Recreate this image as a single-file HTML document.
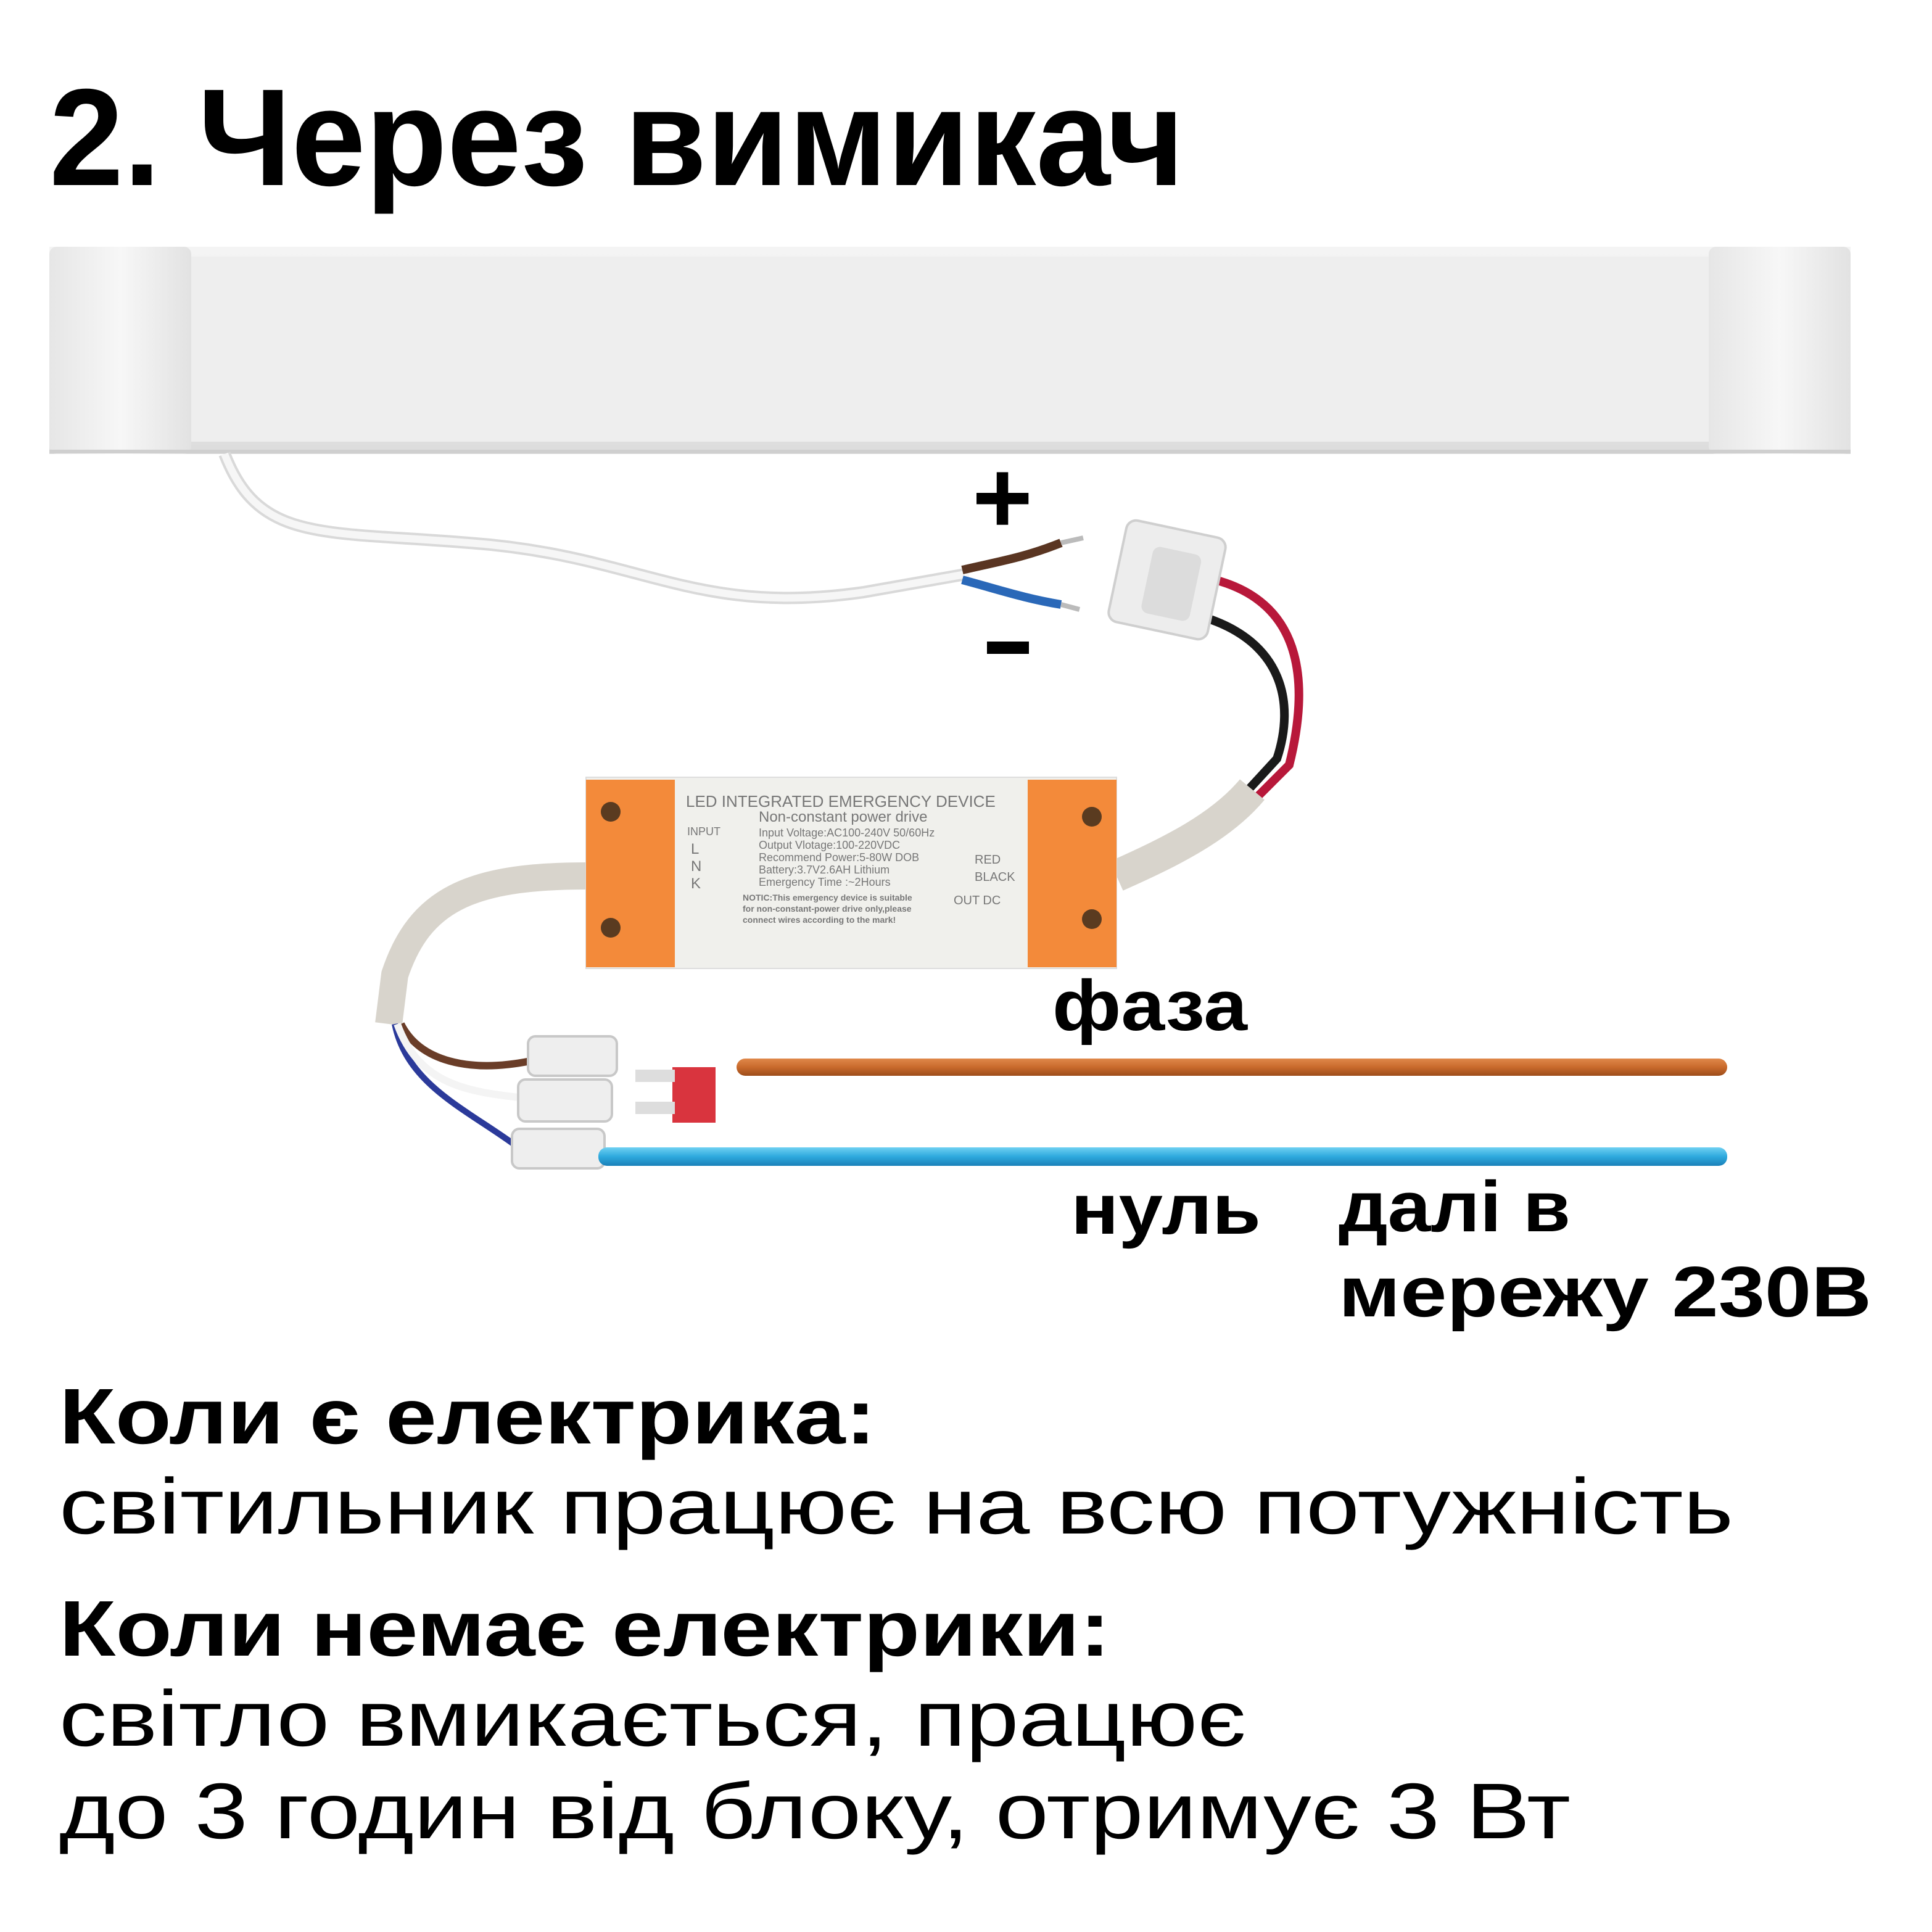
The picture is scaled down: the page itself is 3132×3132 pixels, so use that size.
<!DOCTYPE html>
<html><head><meta charset="utf-8"><style>
html,body{margin:0;padding:0;background:#fff;}
svg{display:block;}
text{font-family:"Liberation Sans","DejaVu Sans",sans-serif;}
</style></head><body>
<svg width="3132" height="3132" viewBox="0 0 1566 1566" xmlns="http://www.w3.org/2000/svg">
<defs>
<linearGradient id="lamp" x1="0" y1="0" x2="0" y2="1">
<stop offset="0" stop-color="#f4f4f4"/><stop offset="0.5" stop-color="#ececec"/><stop offset="1" stop-color="#dcdcdc"/></linearGradient>
<linearGradient id="cap" x1="0" y1="0" x2="1" y2="0">
<stop offset="0" stop-color="#e6e6e6"/><stop offset="0.5" stop-color="#f7f7f7"/><stop offset="1" stop-color="#e2e2e2"/></linearGradient>
<linearGradient id="brw" x1="0" y1="0" x2="0" y2="1"><stop offset="0" stop-color="#e0884a"/><stop offset="0.5" stop-color="#c96a2c"/><stop offset="1" stop-color="#9c4c1a"/></linearGradient>
<linearGradient id="blw" x1="0" y1="0" x2="0" y2="1"><stop offset="0" stop-color="#6fd0f2"/><stop offset="0.5" stop-color="#2ea9de"/><stop offset="1" stop-color="#1a80b8"/></linearGradient>
</defs>
<rect width="1566" height="1566" fill="#fff"/>
<text x="40" y="150" font-size="112" font-weight="bold" textLength="920" lengthAdjust="spacingAndGlyphs" fill="#000">2. Через вимикач</text>
<!-- lamp -->
<rect x="40" y="200" width="1460" height="168" fill="url(#lamp)"/>
<rect x="150" y="208" width="1240" height="150" fill="#eeeeee"/>
<rect x="40" y="200" width="115" height="168" fill="url(#cap)" rx="6"/>
<rect x="1385" y="200" width="115" height="168" fill="url(#cap)" rx="6"/>
<line x1="40" y1="366" x2="1500" y2="366" stroke="#cfcfcf" stroke-width="3"/>
<!-- cable -->
<path d="M182 368 C210 440 260 430 380 440 C520 450 560 500 700 480 L785 465" fill="none" stroke="#d9d9d9" stroke-width="10"/>
<path d="M182 368 C210 440 260 430 380 440 C520 450 560 500 700 480 L785 465" fill="none" stroke="#f6f6f6" stroke-width="6"/>
<path d="M780 462 C810 455 830 452 860 440" stroke="#5a3522" stroke-width="7" fill="none"/>
<path d="M780 470 C810 478 830 485 860 490" stroke="#2a68b8" stroke-width="7" fill="none"/>
<path d="M860 440 L878 436 M860 490 L875 494" stroke="#bbb" stroke-width="4"/>
<text x="788" y="432" font-size="84" font-weight="bold">+</text>
<rect x="800" y="520" width="34" height="10" fill="#000"/>
<!-- connector top -->
<path d="M985 470 C1060 490 1060 560 1045 620 L1020 645" stroke="#b8183a" stroke-width="7" fill="none"/>
<path d="M975 500 C1040 520 1050 570 1035 615 L1012 640" stroke="#1a1a1a" stroke-width="7" fill="none"/>
<rect x="905" y="428" width="82" height="84" rx="8" fill="#ededed" stroke="#cfcfcf" stroke-width="2" transform="rotate(12 946 470)"/>
<rect x="930" y="445" width="40" height="55" rx="6" fill="#dcdcdc" transform="rotate(12 946 470)"/>
<!-- sleeve -->
<path d="M905 710 C950 690 990 670 1015 640" stroke="#d8d4cc" stroke-width="26" fill="none"/>
<path d="M475 710 C380 710 340 730 320 790 L315 830" stroke="#d8d4cc" stroke-width="22" fill="none"/>
<!-- device -->
<rect x="475" y="630" width="430" height="155" fill="#f0f0ec" stroke="#ddd"/>
<rect x="475" y="632" width="72" height="152" fill="#f38a3a"/>
<rect x="833" y="632" width="72" height="152" fill="#f38a3a"/>
<circle cx="495" cy="658" r="8" fill="#5a3b20"/><circle cx="495" cy="752" r="8" fill="#5a3b20"/>
<circle cx="885" cy="662" r="8" fill="#5a3b20"/><circle cx="885" cy="745" r="8" fill="#5a3b20"/>
<g fill="#777" font-size="11">
<text x="556" y="654" font-size="13">LED INTEGRATED EMERGENCY DEVICE</text>
<text x="615" y="666" font-size="12">Non-constant power drive</text>
<text x="615" y="678" font-size="9">Input Voltage:AC100-240V 50/60Hz</text>
<text x="615" y="688" font-size="9">Output Vlotage:100-220VDC</text>
<text x="615" y="698" font-size="9">Recommend Power:5-80W DOB</text>
<text x="615" y="708" font-size="9">Battery:3.7V2.6AH Lithium</text>
<text x="615" y="718" font-size="9">Emergency Time :~2Hours</text>
<text x="602" y="730" font-size="7" font-weight="bold">NOTIC:This emergency device is suitable</text>
<text x="602" y="739" font-size="7" font-weight="bold">for non-constant-power drive only,please</text>
<text x="602" y="748" font-size="7" font-weight="bold">connect wires according to the mark!</text>
<text x="557" y="677" font-size="9">INPUT</text>
<text x="560" y="692" font-size="12">L</text><text x="560" y="706" font-size="12">N</text><text x="560" y="720" font-size="12">K</text>
<text x="790" y="700" font-size="10">RED</text><text x="790" y="714" font-size="10">BLACK</text>
<text x="773" y="733" font-size="10">OUT DC</text>
</g>
<!-- bottom wires -->
<path d="M320 830 C330 880 380 900 420 930" stroke="#2b3a9a" stroke-width="5" fill="none"/>
<path d="M325 830 C340 860 380 870 430 860" stroke="#6a3d28" stroke-width="6" fill="none"/>
<path d="M322 830 C340 880 380 885 425 890" stroke="#f4f4f4" stroke-width="6" fill="none"/>
<g fill="#eeeeee" stroke="#c8c8c8" stroke-width="2">
<rect x="428" y="840" width="72" height="32" rx="6"/>
<rect x="420" y="875" width="76" height="34" rx="6"/>
<rect x="415" y="915" width="75" height="32" rx="6"/>
</g>
<rect x="545" y="865" width="35" height="45" fill="#d9343e"/>
<rect x="515" y="867" width="32" height="10" fill="#ddd"/><rect x="515" y="893" width="32" height="10" fill="#ddd"/>
<rect x="597" y="858" width="803" height="14" rx="7" fill="url(#brw)"/>
<rect x="485" y="930" width="915" height="15" rx="7" fill="url(#blw)"/>
<!-- labels -->
<g font-weight="bold" font-size="58" fill="#000">
<text x="853" y="835" textLength="158" lengthAdjust="spacingAndGlyphs">фаза</text>
<text x="868" y="1000" textLength="154" lengthAdjust="spacingAndGlyphs">нуль</text>
<text x="1085" y="998" textLength="188" lengthAdjust="spacingAndGlyphs">далі в</text>
<text x="1085" y="1067" textLength="432" lengthAdjust="spacingAndGlyphs">мережу 230В</text>
</g>
<g font-size="64" fill="#000">
<text x="48" y="1170" font-weight="bold" textLength="662" lengthAdjust="spacingAndGlyphs">Коли є електрика:</text>
<text x="48" y="1243" textLength="1357" lengthAdjust="spacingAndGlyphs">світильник працює на всю потужність</text>
<text x="48" y="1342" font-weight="bold" textLength="852" lengthAdjust="spacingAndGlyphs">Коли немає електрики:</text>
<text x="48" y="1415" textLength="962" lengthAdjust="spacingAndGlyphs">світло вмикається, працює</text>
<text x="48" y="1490" textLength="1225" lengthAdjust="spacingAndGlyphs">до 3 годин від блоку, отримує 3 Вт</text>
</g>
</svg>
</body></html>
